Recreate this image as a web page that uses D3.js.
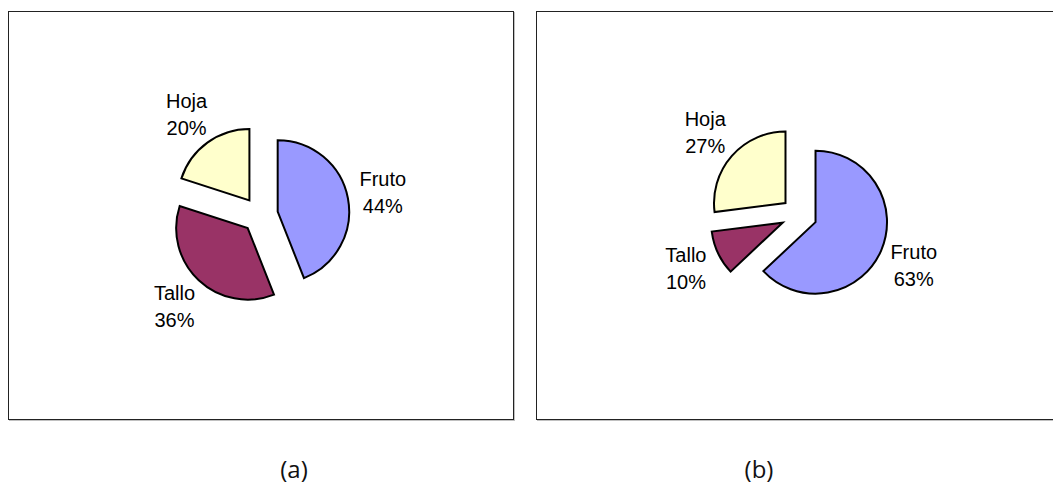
<!DOCTYPE html>
<html>
<head>
<meta charset="utf-8">
<script src="https://cdn.jsdelivr.net/npm/d3@7"></script>
<style>
  body { margin: 0; background: #fff; }
  svg { display: block; }
</style>
</head>
<body>
<script>
// data
var categories = ["Fruto", "Tallo", "Hoja"];
var valuesA = [44, 36, 20];
var valuesB = [63, 10, 27];
var panelLabels = ["(a)", "(b)"];
var colors = ["#9999ff", "#993366", "#ffffcc"];

var width = 1053, height = 488;

var svg = d3.select("body").append("svg")
  .attr("width", width).attr("height", height);

svg.append("rect").attr("width", width).attr("height", height).attr("fill", "#fff");

// panel frames (x, y, w, h), pie centre and caption x
var panels = [
  { values: valuesA, x: 8, y: 11, w: 505, h: 408, cx: 260, capX: 294 },
  { values: valuesB, x: 536, y: 11, w: 526, h: 408, cx: 799, capX: 759 }
];

var pie = d3.pie().sort(null).value(function(d) { return d; });
var arc = d3.arc().innerRadius(0).outerRadius(71.5);
var explode = d3.arc().innerRadius(18).outerRadius(18);
var labelArc = d3.arc().innerRadius(125).outerRadius(125);

panels.forEach(function(p, i) {
  // soft shadow
  svg.append("rect").attr("x", p.x + 1.5).attr("y", p.y + 1.5)
    .attr("width", p.w).attr("height", p.h)
    .attr("fill", "none").attr("stroke", "#c0c0c0").attr("stroke-width", 1);
  svg.append("rect").attr("x", p.x + 0.5).attr("y", p.y + 0.5)
    .attr("width", p.w).attr("height", p.h)
    .attr("fill", "#fff").attr("stroke", "#222").attr("stroke-width", 1);

  var cy = p.y + p.h / 2;
  var g = svg.append("g").attr("transform", "translate(" + p.cx + "," + cy + ")");

  var arcs = pie(p.values);

  g.selectAll("path").data(arcs).enter().append("path")
    .attr("transform", function(d) {
      var c = explode.centroid(d);
      return "translate(" + c[0] + "," + c[1] + ")";
    })
    .attr("d", arc)
    .attr("fill", function(d, k) { return colors[k]; })
    .attr("stroke", "#000")
    .attr("stroke-width", 2)
    .attr("stroke-linejoin", "miter");

  var lbl = g.selectAll("text.lbl").data(arcs).enter().append("text")
    .attr("class", "lbl")
    .attr("text-anchor", "middle")
    .style("font-family", "'Liberation Sans', Arial, sans-serif")
    .style("font-size", "20px")
    .attr("fill", "#000");
  lbl.append("tspan")
    .attr("x", function(d) { return labelArc.centroid(d)[0]; })
    .attr("y", function(d) { return labelArc.centroid(d)[1] - 6; })
    .text(function(d, k) { return categories[k]; });
  lbl.append("tspan")
    .attr("x", function(d) { return labelArc.centroid(d)[0]; })
    .attr("y", function(d) { return labelArc.centroid(d)[1] + 21; })
    .text(function(d) { return d.data + "%"; });

  svg.append("text")
    .attr("x", p.capX).attr("y", 478)
    .attr("text-anchor", "middle")
    .style("font-family", "'Open Sans', 'Noto Sans', sans-serif")
    .style("font-size", "24px")
    .attr("fill", "#111")
    .text(panelLabels[i]);
});
</script>
</body>
</html>
